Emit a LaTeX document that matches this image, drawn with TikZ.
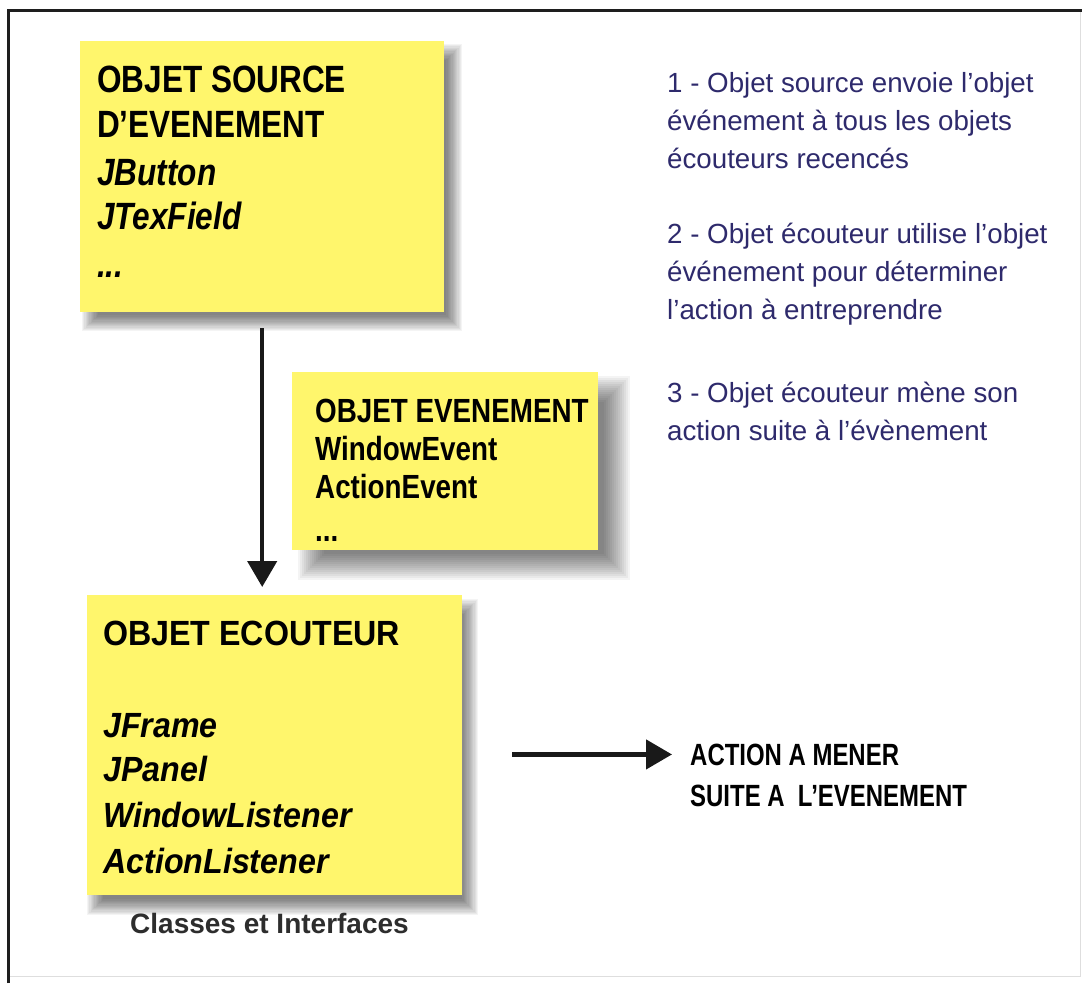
\documentclass[tikz,border=0pt]{standalone}
\usepackage{fontspec}
\setmainfont{Liberation Sans}
\newfontfamily\condA{Liberation Sans}[FakeStretch=0.83]
\newfontfamily\condB{Liberation Sans}[FakeStretch=0.92]
\newfontfamily\condC{Liberation Sans}[FakeStretch=0.78]
\usetikzlibrary{arrows.meta,calc,backgrounds}
\definecolor{postit}{RGB}{255,246,108}
\definecolor{stepblue}{RGB}{46,42,108}
\definecolor{framedark}{RGB}{30,30,30}
\definecolor{framelight}{RGB}{222,222,222}
\definecolor{captiongray}{RGB}{45,45,45}
\newcommand\softshadow[4]{%
  \foreach \k in {0,...,13}{%
    \pgfmathsetmacro\ein{-#4+\k*#4/6.5}%
    \fill[black,fill opacity=0.045] ($(#1.north west)+(#2+\ein,#3+\ein)$) rectangle ($(#1.south east)+(#2-\ein,#3-\ein)$);
  }}
\begin{document}
\begin{tikzpicture}[x=1pt,y=-1pt,
  box/.style={fill=postit, draw=none, anchor=north west, inner sep=0pt},
  txt/.style={anchor=base west, inner sep=0pt, text=black},
  srcfont/.style={txt, font=\fontsize{38pt}{45pt}\selectfont\condA\bfseries},
  srcital/.style={txt, font=\fontsize{38pt}{45pt}\selectfont\condA\bfseries\itshape},
  evtfont/.style={txt, font=\fontsize{33.5pt}{40pt}\selectfont\condA\bfseries},
  lstfont/.style={txt, font=\fontsize{35pt}{42pt}\selectfont\condB\bfseries},
  lstital/.style={txt, font=\fontsize{35pt}{42pt}\selectfont\condB\bfseries\itshape},
  actfont/.style={txt, font=\fontsize{30.7pt}{37pt}\selectfont\condC\bfseries},
  capfont/.style={txt, text=captiongray, font=\fontsize{28pt}{34pt}\selectfont\bfseries},
  stepfont/.style={txt, text=stepblue, font=\fontsize{27.7pt}{33pt}\selectfont},
  flow/.style={line width=4.5pt, draw=black!90, -{Triangle[width=29pt,length=26pt]}},
]
\useasboundingbox (0,0) rectangle (1083,983);

% boxes
\node[box, minimum width=364pt, minimum height=271pt] (src) at (80,41) {};
\node[box, minimum width=306pt, minimum height=178pt] (evt) at (292,372) {};
\node[box, minimum width=375pt, minimum height=300pt] (lst) at (87,595) {};

% source box text
\node[srcfont] (src1) at (97,92) {OBJET SOURCE};
\node[srcfont] (src2) at (97,137) {D’EVENEMENT};
\node[srcital] (src3) at (97,185) {JButton};
\node[srcital] (src4) at (97,229) {JTexField};
\node[srcital] (src5) at (97,277) {...};

% event box text
\node[evtfont] (evt1) at (315,422) {OBJET EVENEMENT};
\node[evtfont] (evt2) at (315,460) {WindowEvent};
\node[evtfont] (evt3) at (315,498) {ActionEvent};
\node[evtfont] (evt4) at (315,541) {...};

% listener box text
\node[lstfont] (lst1) at (103,645) {OBJET ECOUTEUR};
\node[lstital] (lst2) at (103,737) {JFrame};
\node[lstital] (lst3) at (103,781) {JPanel};
\node[lstital] (lst4) at (103,827) {WindowListener};
\node[lstital] (lst5) at (103,873) {ActionListener};
\node[capfont] (cap) at (130,933) {Classes et Interfaces};

% action text
\node[actfont] (act1) at (690,765) {ACTION A MENER};
\node[actfont] (act2) at (690,806) {SUITE A\ \ L’EVENEMENT};

% steps
\node[stepfont] (s11) at (667,92) {1 - Objet source envoie l’objet};
\node[stepfont] (s12) at (667,130) {événement à tous les objets};
\node[stepfont] (s13) at (667,168) {écouteurs recencés};
\node[stepfont] (s21) at (667,243) {2 - Objet écouteur utilise l’objet};
\node[stepfont] (s22) at (667,281) {événement pour déterminer};
\node[stepfont] (s23) at (667,319) {l’action à entreprendre};
\node[stepfont] (s31) at (667,402) {3 - Objet écouteur mène son};
\node[stepfont] (s32) at (667,440) {action suite à l’évènement};

% connectors
\draw[flow, shorten <=16pt, shorten >=8pt] (src.south) -- (src.south |- lst.north);
\draw[flow, shorten <=50pt, shorten >=18pt] (lst.east |- act1.west) -- (act1.west);

% frame
\draw[framelight, line width=1pt] (1080,10) -- (1080,976) -- (8,976);
\draw[framedark, line width=3pt] (8,983) -- (8,10) -- (1082,10);

\begin{scope}[on background layer]
  \fill[white] (0,0) rectangle (1083,983);
  \softshadow{src}{10}{11}{8}
  \softshadow{evt}{19}{17}{13}
  \softshadow{lst}{8}{12}{8}
\end{scope}
\end{tikzpicture}
\end{document}
